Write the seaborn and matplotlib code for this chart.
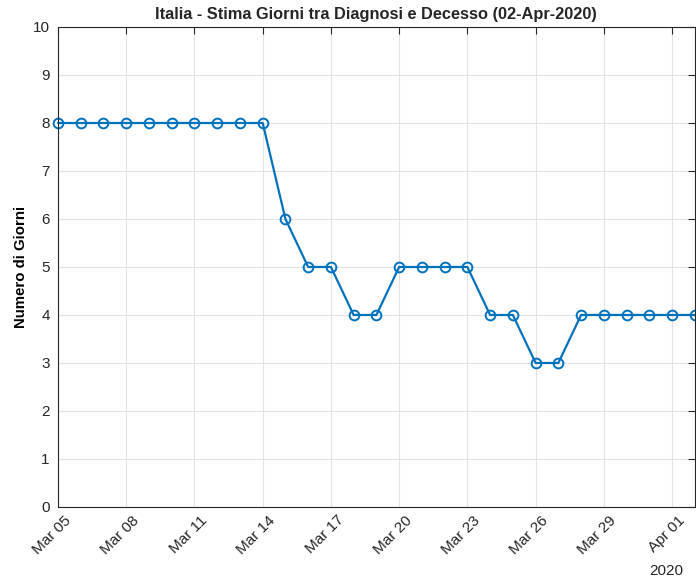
import matplotlib
matplotlib.use("Agg")
import matplotlib.pyplot as plt
import matplotlib.dates as mdates
import matplotlib.transforms as mtransforms
import numpy as np
import pandas as pd
import seaborn as sns

# DATA
dates = pd.date_range("2020-03-05", "2020-04-02", freq="D")
giorni = [8, 8, 8, 8, 8, 8, 8, 8, 8, 8,
          6, 5, 5, 4, 4, 5, 5, 5, 5, 4,
          4, 3, 3, 4, 4, 4, 4, 4, 4]
title = "Italia - Stima Giorni tra Diagnosi e Decesso (02-Apr-2020)"
ylabel = "Numero di Giorni"

df = pd.DataFrame({"data": dates, "giorni": giorni})

sns.set_style("white")
plt.rcParams["font.family"] = ["Liberation Sans", "DejaVu Sans"]

fig = plt.figure(figsize=(6.96, 5.79), dpi=100)
ax = fig.add_axes([0.0833, 0.1244, 0.915, 0.829])

sns.lineplot(data=df, x="data", y="giorni", ax=ax, color="#0072BD",
             linewidth=1.6, marker="o", markersize=7, markerfacecolor="none",
             markeredgecolor="#0072BD", markeredgewidth=1.4, clip_on=False)

ax.set_xlim(dates[0], dates[-1])
ax.set_ylim(0, 10)
ax.set_yticks(range(0, 11))
ax.xaxis.set_major_locator(mdates.DayLocator(bymonthday=[5, 8, 11, 14, 17, 20, 23, 26, 29, 1]))
ax.xaxis.set_major_formatter(mdates.DateFormatter("%b %d"))

ax.grid(True, color="#e3e3e3", linewidth=0.8)
ax.set_axisbelow(True)
for s in ax.spines.values():
    s.set_color("#262626")
    s.set_linewidth(0.8)
    s.set_visible(True)
ax.tick_params(direction="in", length=5, width=0.8, colors="#262626",
               labelsize=11, top=True, right=True, pad=6)

# shift rotated date labels so they end just right of the tick
offset = mtransforms.ScaledTranslation(7.5 / 72, -2 / 72, fig.dpi_scale_trans)
for lbl in ax.get_xticklabels():
    lbl.set_rotation(45)
    lbl.set_ha("right")
    lbl.set_va("center")
    lbl.set_rotation_mode("anchor")
    lbl.set_transform(lbl.get_transform() + offset)

ax.set_xlabel("")
ax.set_ylabel(ylabel, fontsize=10.8, fontweight="bold", color="#000000")
ax.yaxis.set_label_coords(-0.047, 0.5)
ax.set_title(title, fontsize=11.8, fontweight="bold", pad=6)
fig.text(0.982, 0.002, "2020", ha="right", va="bottom", fontsize=11, color="#262626")

fig.savefig("out.png", dpi=100)
